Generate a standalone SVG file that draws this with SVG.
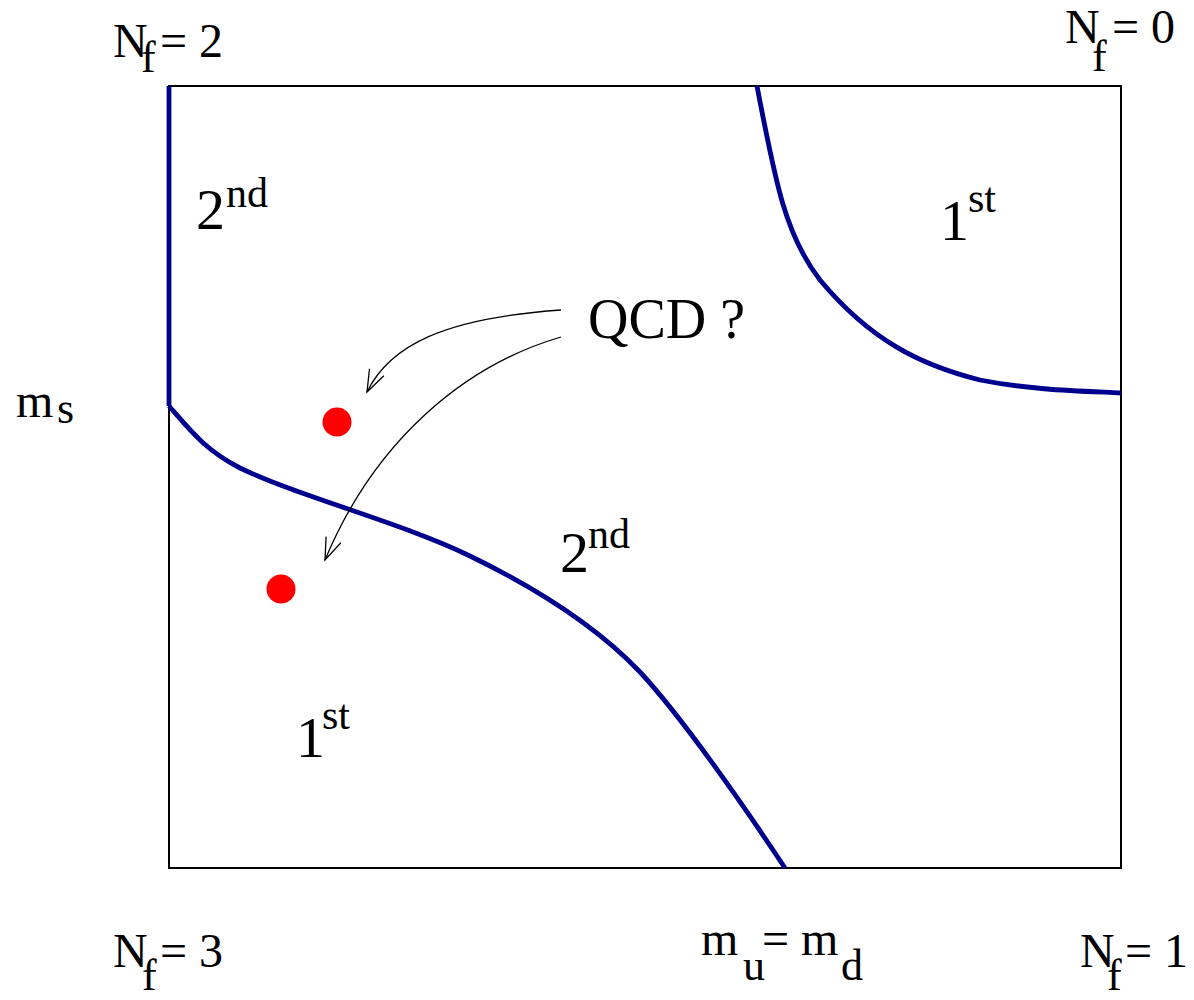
<svg xmlns="http://www.w3.org/2000/svg" width="1194" height="1000" viewBox="0 0 1194 1000">
<defs>
<style>
.lb{font-size:48px}
.sb{font-size:44px}
.big{font-size:58px}
.sup{font-size:42px}
.q{font-size:56px}
.blue{fill:none;stroke:#00008f;stroke-width:4.8;stroke-linejoin:round}
.arr{fill:none;stroke:#000;stroke-width:1.3}
.dot{fill:#ff0000}
</style>
<marker id="ah" markerUnits="userSpaceOnUse" markerWidth="30" markerHeight="30" refX="24" refY="12" orient="auto" viewBox="0 0 30 24">
<path d="M2,4 L24,12 L2,20" fill="none" stroke="#000" stroke-width="1.3"/>
</marker>
</defs>
<rect width="1194" height="1000" fill="#fff"/>
<g id="frame">
<rect x="169" y="86" width="952" height="782" fill="none" stroke="#000" stroke-width="2"/>
</g>
<g id="boundaries">
<path class="blue" d="M169,86 L169,406"/>
<path class="blue" d="M169,406 C190,430 205,450 240,468 C300,497 400,522 470,556 C540,590 600,630 640,672 C680,715 740,800 785,868"/>
<path class="blue" d="M757,86 C775,180 785,235 820,280 C870,340 920,365 980,380 C1030,390 1080,391 1121,393"/>
</g>
<g id="connectors">
<path class="arr" d="M561,310 C445,318 390,345 367,392" marker-end="url(#ah)"/>
<path class="arr" d="M561,337 C465,365 375,440 325,560" marker-end="url(#ah)"/>
</g>
<g id="dots">
<circle class="dot" cx="337" cy="422" r="14.5"/>
<circle class="dot" cx="281" cy="589" r="14.5"/>
</g>
<g font-family="'Liberation Serif', 'Times New Roman', Times, serif" fill="#000">
<g id="nf2"><text class="lb" x="113" y="57">N</text><text class="sb" x="141" y="72">f</text><text class="lb" x="160" y="57">= 2</text></g>
<g id="nf0"><text class="lb" x="1065" y="43">N</text><text class="sb" x="1092" y="71">f</text><text class="lb" x="1112" y="43">= 0</text></g>
<g id="nf3"><text class="lb" x="113" y="967">N</text><text class="sb" x="142" y="990">f</text><text class="lb" x="160" y="967">= 3</text></g>
<g id="nf1"><text class="lb" x="1080" y="967">N</text><text class="sb" x="1107" y="990">f</text><text class="lb" x="1125" y="967">= 1</text></g>
<g id="ms"><text class="lb" x="16" y="417">m</text><text class="sb" x="57" y="423">s</text></g>
<g id="mumd"><text class="lb" x="701" y="955">m</text><text class="sb" x="743" y="980">u</text><text class="lb" x="762" y="955">= m</text><text class="sb" x="841" y="980">d</text></g>
<g id="r2nd-top"><text class="big" x="196" y="229">2</text><text class="sup" x="226" y="207">nd</text></g>
<g id="r1st-top"><text class="big" x="940" y="240">1</text><text class="sup" x="968" y="212">st</text></g>
<g id="r2nd-mid"><text class="big" x="560" y="572">2</text><text class="sup" x="588" y="548">nd</text></g>
<g id="r1st-low"><text class="big" x="296" y="757">1</text><text class="sup" x="322" y="729">st</text></g>
<g id="qcd"><text class="q" x="588" y="338">QCD ?</text></g>
</g>
</svg>
